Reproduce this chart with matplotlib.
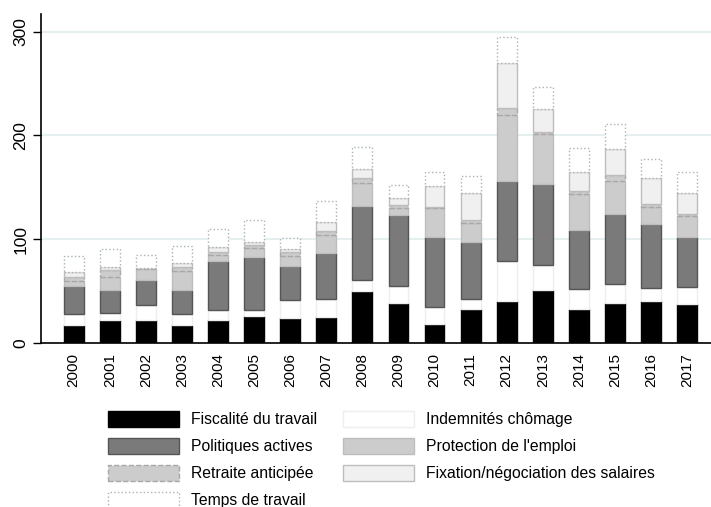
import matplotlib
matplotlib.use("Agg")
import matplotlib.pyplot as plt
import numpy as np
from matplotlib.patches import Patch

plt.rcParams['font.family'] = ['Liberation Sans', 'DejaVu Sans']

# Data (stack order from bottom to top).
years = [str(y) for y in range(2000, 2018)]
fiscalite = [17.5, 22.5, 22.5, 17.5, 22, 26, 24.5, 25.5, 50.5, 39, 18.5, 32.5, 40.5, 51.5, 32.5, 39, 40.5, 37.5]
indemnites = [10.5, 6.5, 14, 10, 10, 5.5, 16.5, 17, 10.5, 16, 16, 10, 38.5, 23.5, 19.5, 18, 12.5, 16.5]
politiques = [26.5, 22.5, 24, 24, 47, 51, 33.5, 44, 71, 68.5, 68, 54.5, 77, 78.5, 56.5, 67.5, 61.5, 48.5]
protection = [5, 12.5, 11, 18, 5.5, 9, 9.5, 17.5, 22.5, 7, 27.5, 19, 64, 47.5, 35.5, 32, 17, 19.5]
retraite = [4, 6, 0.5, 4, 3.5, 3, 4, 4, 4, 2, 1.5, 2.5, 6.5, 2.5, 2, 5.5, 2.5, 2.5]
fixation = [5, 3.5, 0.5, 4, 4.5, 2.5, 2.5, 8.5, 9, 7, 20, 26.5, 43.5, 21.5, 18.5, 25, 25, 20]
temps = [15, 17.5, 12, 16, 17, 21.5, 11, 20, 21, 13, 13, 15.5, 24.5, 21.5, 23, 24, 18, 20.5]

series = [
    ("Fiscalité du travail", fiscalite, dict(facecolor="black", edgecolor="black", linestyle="-")),
    ("Indemnités chômage", indemnites, dict(facecolor="white", edgecolor="#eeeeee", linestyle="-")),
    ("Politiques actives", politiques, dict(facecolor="#7a7a7a", edgecolor="#555555", linestyle="-")),
    ("Protection de l'emploi", protection, dict(facecolor="#cccccc", edgecolor="#bdbdbd", linestyle="-")),
    ("Retraite anticipée", retraite, dict(facecolor="#cccccc", edgecolor="#a8a8a8", linestyle="--")),
    ("Fixation/négociation des salaires", fixation, dict(facecolor="#f0f0f0", edgecolor="#bdbdbd", linestyle="-")),
    ("Temps de travail", temps, dict(facecolor="white", edgecolor="#a9b3b3", linestyle=":")),
]

fig = plt.figure(figsize=(7.11, 5.07), dpi=100)
ax = fig.add_axes([0.0572, 0.3235, 0.9428, 0.6489])

x = np.arange(len(years))
bottom = np.zeros(len(years))
handles = {}
for name, vals, style in series:
    vals = np.array(vals)
    ax.bar(x, vals, bottom=bottom, width=0.55, linewidth=1.0, zorder=3, **style)
    handles[name] = Patch(label=name, linewidth=1.0, **style)
    bottom += vals

ax.set_xlim(-0.915, 17.66)
ax.set_ylim(0, 317)
ax.set_yticks([0, 100, 200, 300])
ax.yaxis.grid(True, color="#e6eff0", linewidth=1.5, zorder=0)
ax.set_xticks(x)
ax.set_xticklabels(years, rotation=90, fontsize=11)
ax.tick_params(axis="x", length=0, pad=7)
ax.tick_params(axis="y", labelrotation=90, labelsize=12.5, length=5.5, width=1)
for lab in ax.get_yticklabels():
    lab.set_va("center")
for s in ["top", "right"]:
    ax.spines[s].set_visible(False)
ax.spines["left"].set_linewidth(1.2)
ax.spines["bottom"].set_linewidth(1.2)

order = ["Fiscalité du travail", "Politiques actives", "Retraite anticipée", "Temps de travail",
         "Indemnités chômage", "Protection de l'emploi", "Fixation/négociation des salaires"]
fig.legend(handles=[handles[n] for n in order], loc="upper left",
           bbox_to_anchor=(108 / 711, 1 - 411 / 507), ncol=2, frameon=False,
           fontsize=11.3, handlelength=4.5, handleheight=1.15, handletextpad=0.76,
           columnspacing=1.7, labelspacing=0.7, borderpad=0, borderaxespad=0)

fig.savefig("out.png", dpi=100)
